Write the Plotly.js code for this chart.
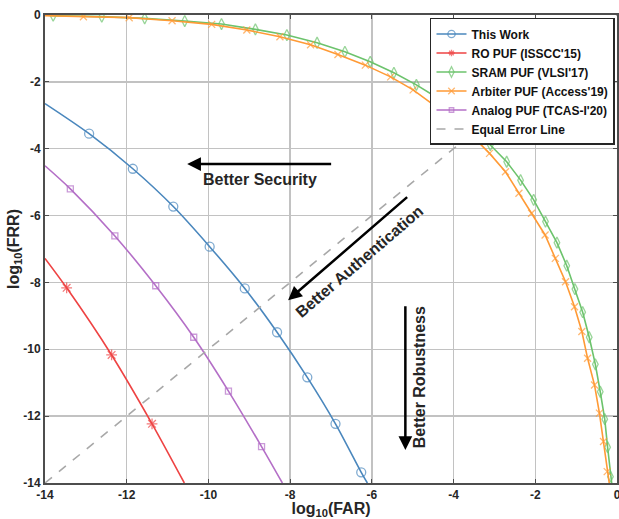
<!DOCTYPE html>
<html><head><meta charset="utf-8">
<script src="https://cdn.plot.ly/plotly-3.0.1.min.js"></script>
<style>html,body{margin:0;padding:0;background:#fff}#chart{width:619px;height:519px}</style>
</head><body><div id="chart"></div>
<script>
// Series names (legend)
const seriesNames = ["This Work", "RO PUF (ISSCC'15)", "SRAM PUF (VLSI'17)", "Arbiter PUF (Access'19)", "Analog PUF (TCAS-I'20)", "Equal Error Line"];

// log10(FAR) / log10(FRR) values (first/last = curve ends, no marker)
const thisWorkFAR = [-14, -12.92, -11.85, -10.86, -9.97, -9.11, -8.32, -7.58, -6.89, -6.26, -6.11];
const thisWorkFRR = [-2.65, -3.55, -4.60, -5.73, -6.93, -8.18, -9.49, -10.84, -12.23, -13.68, -14];

const roFAR = [-14, -13.47, -12.37, -11.38, -10.59];
const roFRR = [-7.28, -8.16, -10.17, -12.23, -14];

const sramFAR = [-14, -13.80, -12.61, -11.56, -10.58, -9.68, -8.85, -8.08, -7.34, -6.66, -6.04, -5.46, -4.91, -4.38, -3.91, -3.49, -3.10, -2.70, -2.36, -2.04, -1.75, -1.47, -1.23, -1.03, -0.84, -0.68, -0.53, -0.41, -0.30, -0.23, -0.16, -0.13];
const sramFRR = [0, -0.02, -0.05, -0.10, -0.18, -0.27, -0.43, -0.60, -0.83, -1.10, -1.40, -1.73, -2.09, -2.49, -2.96, -3.41, -3.89, -4.39, -4.94, -5.53, -6.18, -6.81, -7.50, -8.20, -8.89, -9.64, -10.45, -11.27, -12.09, -12.93, -13.81, -14];

const arbiterFAR = [-14, -13.06, -11.94, -10.89, -9.92, -9.06, -8.25, -7.50, -6.83, -6.16, -5.54, -4.99, -4.49, -3.99, -3.55, -3.12, -2.73, -2.40, -2.09, -1.76, -1.51, -1.26, -1.04, -0.86, -0.72, -0.55, -0.43, -0.33, -0.24, -0.19];
const arbiterFRR = [-0.02, -0.05, -0.08, -0.17, -0.28, -0.45, -0.65, -0.89, -1.18, -1.50, -1.85, -2.24, -2.69, -3.14, -3.61, -4.14, -4.69, -5.33, -5.93, -6.58, -7.28, -7.98, -8.73, -9.47, -10.27, -11.07, -11.91, -12.76, -13.66, -14];

const analogFAR = [-14, -13.38, -12.29, -11.29, -10.36, -9.51, -8.70, -8.19];
const analogFRR = [-4.51, -5.20, -6.61, -8.10, -9.64, -11.25, -12.91, -14];

const eerFAR = [-14, 0];
const eerFRR = [-14, 0];

// axis ticks
const tickVals = [-14, -12, -10, -8, -6, -4, -2, 0];
const tickText = ["-14", "-12", "-10", "-8", "-6", "-4", "-2", "0"];

const FONT = "Liberation Sans, Arial, sans-serif";
const colors = ["#4a87bd", "#ee4343", "#6cc36c", "#ff9a35", "#b46fc7", "#a8a8a8"];

function innerSizes(n, s) { return Array.from({length: n}, (_, i) => (i === 0 || i === n - 1) ? 0 : s); }

function curve(x, y, name, color, symbol, size, shape) {
  return {
    x: x, y: y, name: name, type: 'scatter', mode: 'lines+markers',
    line: {color: color, width: 1.6, shape: shape || 'linear', smoothing: 0.8},
    marker: {symbol: symbol, size: innerSizes(x.length, size), color: color,
             line: {color: color, width: 1.3}}
  };
}

const data = [
  curve(thisWorkFAR, thisWorkFRR, seriesNames[0], colors[0], 'circle-open', 9, 'spline'),
  curve(roFAR, roFRR, seriesNames[1], colors[1], 'asterisk-open', 9, 'spline'),
  curve(sramFAR, sramFRR, seriesNames[2], colors[2], 'diamond-tall-open', 8, 'linear'),
  curve(arbiterFAR, arbiterFRR, seriesNames[3], colors[3], 'x-thin-open', 7, 'linear'),
  curve(analogFAR, analogFRR, seriesNames[4], colors[4], 'square-open', 6, 'spline'),
  {x: eerFAR, y: eerFRR, name: seriesNames[5], type: 'scatter', mode: 'lines',
   line: {color: colors[5], width: 1.6, dash: 'dash'}}
];

const axisCommon = {
  range: [-14, 0], tickvals: tickVals, ticktext: tickText,
  showgrid: true, gridcolor: '#c2c2c2', gridwidth: 1.5,
  showline: true, linecolor: '#4d4d4d', linewidth: 2, mirror: 'ticks',
  ticks: 'inside', ticklen: 4, tickcolor: '#4d4d4d', tickwidth: 1.2,
  zeroline: false, fixedrange: true, ticklabeloverflow: 'allow',
  tickfont: {family: FONT, size: 12, color: '#262626', weight: 'bold'}
};

const annFont = {family: FONT, size: 16, color: '#262626', weight: 'bold'};
function arrow(hx, hy, tx, ty) {
  return {x: hx, y: hy, ax: tx, ay: ty, xref: 'x', yref: 'y', axref: 'x', ayref: 'y',
          text: '', showarrow: true, arrowhead: 2, arrowsize: 1.1, arrowwidth: 2.5, arrowcolor: '#000'};
}
function label(x, y, text, angle) {
  return {x: x, y: y, xref: 'x', yref: 'y', text: text, showarrow: false, textangle: angle,
          font: annFont, xanchor: 'center', yanchor: 'middle'};
}

const layout = {
  width: 619, height: 519,
  margin: {l: 45, r: 2, t: 15, b: 36},
  paper_bgcolor: '#fff', plot_bgcolor: '#fff',
  font: {family: FONT, color: '#262626'},
  xaxis: Object.assign({}, axisCommon, {
    title: {text: 'log<sub>10</sub>(FAR)', font: {family: FONT, size: 16, color: '#262626', weight: 'bold'}}
  }),
  yaxis: Object.assign({}, axisCommon, {
    title: {text: 'log<sub>10</sub>(FRR)', standoff: 0, font: {family: FONT, size: 16, color: '#262626', weight: 'bold'}}
  }),
  showlegend: true,
  legend: {x: 0.9965, xanchor: 'right', y: 0.9936, yanchor: 'top', bgcolor: '#fff',
           bordercolor: '#262626', borderwidth: 1.5,
           font: {family: FONT, size: 12, color: '#111', weight: 'bold'}},
  annotations: [
    arrow(-10.52, -4.46, -6.96, -4.46),
    label(-8.74, -4.91, 'Better Security', 0),
    arrow(-8.05, -8.53, -5.10, -5.41),
    label(-6.31, -7.36, 'Better Authentication', -40.7),
    arrow(-5.18, -13.01, -5.18, -8.67),
    label(-4.83, -10.85, 'Better Robustness', -90)
  ]
};

Plotly.newPlot('chart', data, layout, {displayModeBar: false, staticPlot: true});
</script>
</body></html>
